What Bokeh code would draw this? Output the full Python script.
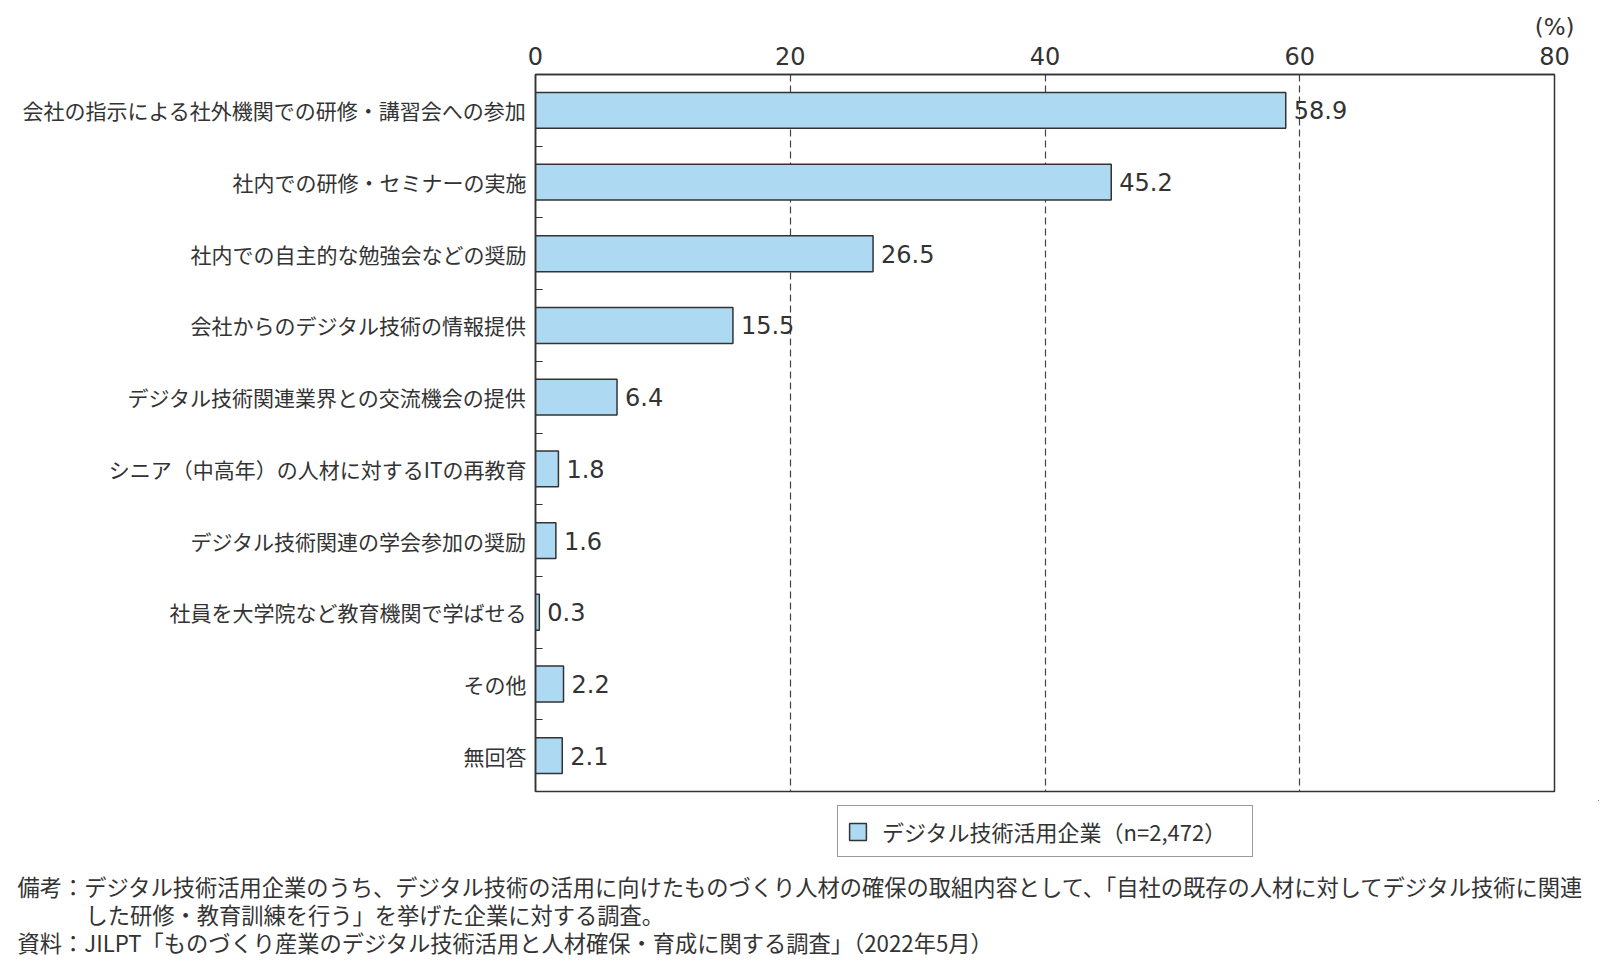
from bokeh.plotting import figure
from bokeh.layouts import column
from bokeh.models import (Range1d, FixedTicker, Legend, LegendItem, Title, Label, ColumnDataSource)
from bokeh.core.properties import value
from bokeh.embed import file_html
from bokeh.resources import INLINE

categories = [
    "会社の指示による社外機関での研修・講習会への参加",
    "社内での研修・セミナーの実施",
    "社内での自主的な勉強会などの奨励",
    "会社からのデジタル技術の情報提供",
    "デジタル技術関連業界との交流機会の提供",
    "シニア（中高年）の人材に対するITの再教育",
    "デジタル技術関連の学会参加の奨励",
    "社員を大学院など教育機関で学ばせる",
    "その他",
    "無回答",
]
values = [58.9, 45.2, 26.5, 15.5, 6.4, 1.8, 1.6, 0.3, 2.2, 2.1]
x_ticks = [0, 20, 40, 60, 80]
series_name = "デジタル技術活用企業（n=2,472）"
unit_label = "(%)"
notes = [
    "備考：デジタル技術活用企業のうち、デジタル技術の活用に向けたものづくり人材の確保の取組内容として、「自社の既存の人材に対してデジタル技術に関連",
    "した研修・教育訓練を行う」を挙げた企業に対する調査。",
    "資料：JILPT「ものづくり産業のデジタル技術活用と人材確保・育成に関する調査」（2022年5月）",
]

FONT = "Noto Sans CJK JP"
NUMFONT = "DejaVu Sans"
TXT = "#333333"
BAR = "#aed9f2"
EDGE = "#333333"

n = len(categories)
centers = [i + 0.5 for i in range(n)]
bounds = [i for i in range(1, n)]

src = ColumnDataSource(dict(y=centers, v=values, lab=[f"{v:.1f}" for v in values]))

p = figure(width=1599, height=800, x_range=Range1d(0, 80), y_range=Range1d(n, 0),
           x_axis_location="above", output_backend="svg", toolbar_location=None,
           min_border_left=535, min_border_right=45, min_border_top=74, min_border_bottom=9)
p.frame_height = 717
p.frame_width = 1019
p.frame_align = False

p.outline_line_color = EDGE
p.outline_line_width = 1.5
p.background_fill_color = "white"
p.border_fill_color = "white"

# x axis (top)
xa = p.xaxis[0]
xa.ticker = FixedTicker(ticks=x_ticks)
xa.major_tick_in = 0
xa.major_tick_out = 0
xa.minor_tick_in = 0
xa.minor_tick_out = 0
xa.major_label_standoff = 10
xa.major_label_text_font = NUMFONT
xa.major_label_text_font_size = "24px"
xa.major_label_text_color = TXT
xa.axis_line_color = EDGE
xa.axis_line_width = 1.5

# y axis (left)
ya = p.yaxis[0]
ya.ticker = FixedTicker(ticks=centers, minor_ticks=bounds)
ya.major_label_overrides = {c: name for c, name in zip(centers, categories)}
ya.major_tick_in = 0
ya.major_tick_out = 0
ya.minor_tick_in = 7
ya.minor_tick_out = 0
ya.minor_tick_line_color = EDGE
ya.minor_tick_line_width = 1.2
ya.major_label_standoff = 9
ya.major_label_text_font = FONT
ya.major_label_text_font_size = "21px"
ya.major_label_text_color = TXT
ya.axis_line_color = EDGE
ya.axis_line_width = 1.5

p.ygrid.grid_line_color = None
p.xgrid.ticker = FixedTicker(ticks=[20, 40, 60])
p.xgrid.grid_line_color = "#444444"
p.xgrid.grid_line_dash = "7 4"
p.xgrid.grid_line_width = 1.2

p.hbar(y="y", right="v", left=0, height=0.5, source=src,
       fill_color=BAR, line_color=EDGE, line_width=1.5)

p.text(x="v", y="y", text="lab", source=src, x_offset=8, text_baseline="middle",
       text_align="left", text_font=value(NUMFONT), text_font_size="24px", text_color=TXT)

p.add_layout(Title(text=unit_label, align="right", offset=-20, text_font=NUMFONT,
                   text_font_size="23px", text_font_style="normal",
                   text_color=TXT, standoff=8), "above")

# footer: legend + notes (ranges chosen so the series itself is far out of view;
# it only provides the legend swatch)
p2 = figure(width=1599, height=158, x_range=Range1d(-200, -100), y_range=Range1d(-200, -100),
            output_backend="svg", toolbar_location=None, min_border=0)
p2.frame_align = False
p2.axis.visible = False
p2.grid.grid_line_color = None
p2.outline_line_color = None

lr = p2.hbar(y="y", right="v", left=0, height=0.5, source=src,
             fill_color=BAR, line_color=EDGE, line_width=1.5)

legend = Legend(items=[LegendItem(label=series_name, renderers=[lr])],
                location=(837, 101), orientation="horizontal",
                label_text_font=FONT, label_text_font_size="22px", label_text_color=TXT,
                glyph_width=21, glyph_height=21, label_standoff=14, label_width=361,
                padding=9, margin=0,
                border_line_color=EDGE, border_line_width=1.5,
                background_fill_alpha=1.0)
p2.add_layout(legend, "center")

note_x = [17, 85, 17]
note_y = [73, 45, 17]
for t, nx, ny in zip(notes, note_x, note_y):
    p2.add_layout(Label(x=nx, y=ny, x_units="screen", y_units="screen", text=t,
                        text_align="left", text_baseline="middle", text_font=FONT,
                        text_font_size="22.25px", text_color=TXT))

layout = column(p, p2, spacing=0)
open("out.html", "w").write(file_html(layout, INLINE))
